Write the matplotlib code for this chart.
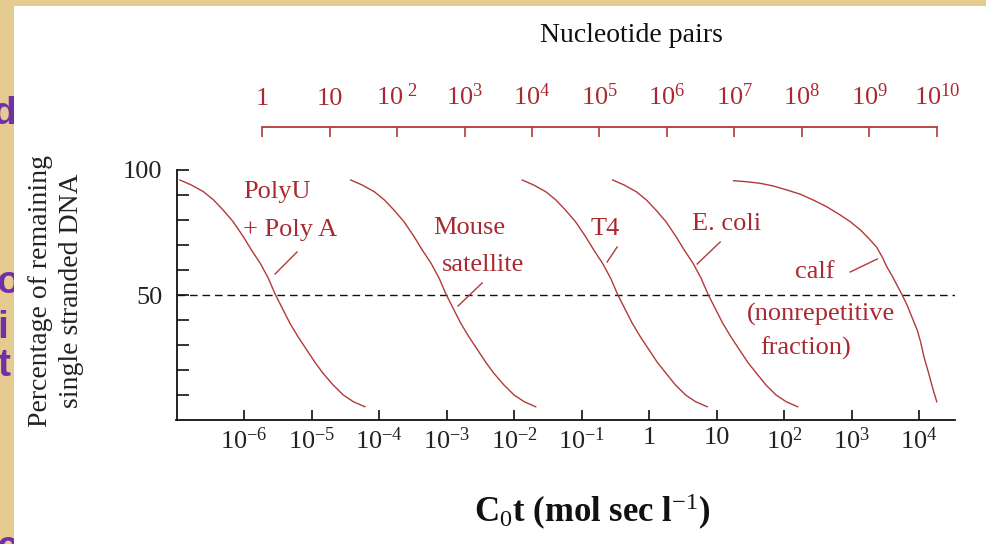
import matplotlib
matplotlib.use("Agg")
import matplotlib.pyplot as plt
import numpy as np
from matplotlib.patches import Rectangle
from matplotlib.ticker import NullLocator

plt.rcParams['font.family'] = ['Liberation Serif', 'DejaVu Serif']
plt.rcParams['mathtext.fontset'] = 'custom'
plt.rcParams['mathtext.rm'] = 'Liberation Serif'
plt.rcParams['mathtext.it'] = 'Liberation Serif:italic'
plt.rcParams['mathtext.bf'] = 'Liberation Serif:bold'

# ── Data (log10 of C0t, percent single stranded) ─────────────────────────────
curve_pct = [96.0, 94.0, 91.3, 88.0, 84.0, 79.3, 73.3, 68.0, 62.7, 56.7, 50.4,
             44.0, 38.7, 33.3, 28.0, 23.1, 18.7, 14.0, 10.0, 7.3, 5.3]

polyu_logcot = [-6.95, -6.78, -6.60, -6.45, -6.31, -6.16, -6.01, -5.89, -5.76, -5.64, -5.54,
                -5.42, -5.32, -5.20, -5.07, -4.95, -4.83, -4.68, -4.53, -4.38, -4.21]
mouse_logcot = [-4.42, -4.25, -4.07, -3.92, -3.78, -3.63, -3.48, -3.36, -3.23, -3.11, -3.01,
                -2.89, -2.79, -2.67, -2.54, -2.42, -2.30, -2.15, -2.00, -1.85, -1.68]
t4_logcot    = [-1.88, -1.71, -1.53, -1.38, -1.24, -1.09, -0.94, -0.82, -0.69, -0.57, -0.47,
                -0.35, -0.25, -0.13, 0.00, 0.12, 0.25, 0.39, 0.54, 0.69, 0.86]
ecoli_logcot = [-0.54, -0.37, -0.19, -0.04, 0.10, 0.25, 0.40, 0.52, 0.65, 0.77, 0.87,
                0.99, 1.09, 1.21, 1.34, 1.46, 1.59, 1.73, 1.88, 2.03, 2.20]

calf_logcot = [1.25, 1.45, 1.64, 1.84, 2.04, 2.24, 2.43, 2.63, 2.83, 2.98, 3.13, 3.25, 3.37,
               3.45, 3.52, 3.60, 3.67, 3.74, 3.82, 3.89, 3.97, 4.02, 4.07, 4.14, 4.20, 4.26]
calf_pct    = [95.7, 95.3, 94.7, 93.6, 92.0, 90.3, 88.0, 85.3, 82.0, 79.3, 76.0, 72.7, 69.1,
               65.3, 61.3, 57.6, 54.0, 50.4, 46.0, 41.3, 36.0, 31.3, 25.3, 18.7, 12.7, 7.3]

cot_ticks  = [1e-6, 1e-5, 1e-4, 1e-3, 1e-2, 1e-1, 1, 10, 1e2, 1e3, 1e4]
cot_labels = [r'$10^{-6}$', r'$10^{-5}$', r'$10^{-4}$', r'$10^{-3}$', r'$10^{-2}$',
              r'$10^{-1}$', '1', '10', r'$10^{2}$', r'$10^{3}$', r'$10^{4}$']

np_ticks  = [1, 1e1, 1e2, 1e3, 1e4, 1e5, 1e6, 1e7, 1e8, 1e9, 1e10]
np_labels = ['1', '10', r'$10^{\ 2}$', r'$10^{3}$', r'$10^{4}$', r'$10^{5}$',
             r'$10^{6}$', r'$10^{7}$', r'$10^{8}$', r'$10^{9}$', r'$10^{10}$']

pct_ticks  = [10, 20, 30, 40, 50, 60, 70, 80, 90, 100]
pct_labels = ['', '', '', '', '50', '', '', '', '', '100']

# label text, log10 x, y (left-aligned, centred vertically)
labels = [
    ('PolyU',          -6.015, 91.2),
    ('+ Poly A',       -6.015, 76.0),
    ('Mouse',          -3.20,  76.8),
    ('satellite',      -3.067, 62.0),
    ('T4',             -0.874, 76.4),
    ('E. coli',         0.637, 78.4),
    ('calf',            2.163, 59.2),
    ('(nonrepetitive',  1.452, 42.4),
    ('fraction)',       1.644, 28.8),
]
# leader lines: (log x0, y0, log x1, y1)
leaders = [
    (-5.215, 67.2, -5.54, 58.4),
    (-2.474, 54.8, -2.83, 45.6),
    (-0.474, 69.2, -0.622, 63.2),
    ( 1.052, 71.2,  0.711, 62.4),
    ( 2.978, 59.2,  3.378, 64.4),
]

RED_LINE = '#B23A3A'
RED_TEXT = '#A82A30'
W, H = 986, 544

fig = plt.figure(figsize=(W / 100, H / 100), dpi=100)
fig.patch.set_facecolor('#E5CB8F')

# bits of purple slide text peeking out at the left edge
for ch, px, py in [('d', -8, 114), ('o', -3, 283), ('i', -3, 328),
                   ('t', -3, 366), ('c', -3, 548)]:
    fig.text(px / W, 1 - py / H, ch, color='#7230A8', fontsize=28,
             fontweight='bold', family='Liberation Sans',
             ha='left', va='center', zorder=-3)

fig.add_artist(Rectangle((14 / W, 0), 1, 1 - 6 / H, transform=fig.transFigure,
                         facecolor='white', edgecolor='none', zorder=-2))

# ── Main axes ────────────────────────────────────────────────────────────────
ax = fig.add_axes([176.5 / W, 124 / H, 778.5 / W, 250 / H])
ax.set_facecolor('none')
ax.set_xscale('log')
ax.set_xlim(1e-7, 10 ** 4.53)
ax.set_ylim(0, 100)
for s in ('top', 'right'):
    ax.spines[s].set_visible(False)
for s in ('left', 'bottom'):
    ax.spines[s].set_linewidth(1.3)
    ax.spines[s].set_color('#111111')

ax.set_xticks(cot_ticks, cot_labels)
ax.xaxis.set_minor_locator(NullLocator())
ax.set_yticks(pct_ticks, pct_labels)
ax.tick_params(axis='x', direction='in', length=7.5, width=1.2, pad=5,
               labelsize=19, color='#111111', labelcolor='#222222')
ax.tick_params(axis='y', direction='in', length=8.5, width=1.2, pad=10,
               labelsize=19, color='#111111', labelcolor='#222222')

ax.axhline(50, color='#111111', lw=1.0, ls=(0, (5.5, 3.5)))

for lx, yy in [(polyu_logcot, curve_pct), (mouse_logcot, curve_pct),
               (t4_logcot, curve_pct), (ecoli_logcot, curve_pct),
               (calf_logcot, calf_pct)]:
    ax.plot(10 ** np.array(lx), yy, color=RED_LINE, lw=1.0, clip_on=False)

for txt, lx, yy in labels:
    ax.text(10 ** lx, yy, txt, color=RED_TEXT, fontsize=19,
            ha='left', va='center')
for x0, y0, x1, y1 in leaders:
    ax.plot([10 ** x0, 10 ** x1], [y0, y1], color=RED_LINE, lw=1.0)

# ── Top nucleotide-pairs axis ────────────────────────────────────────────────
ax_top = fig.add_axes([176.5 / W, 1 - 127 / H - 0.0005, 778.5 / W, 0.0005])
ax_top.set_facecolor('none')
ax_top.set_xscale('log')
ax_top.set_xlim(10 ** -1.267, 10 ** 10.267)
for s in ('bottom', 'left', 'right'):
    ax_top.spines[s].set_visible(False)
ax_top.spines['top'].set_color(RED_LINE)
ax_top.spines['top'].set_linewidth(1.3)
ax_top.spines['top'].set_bounds(1, 1e10)
ax_top.xaxis.tick_top()
ax_top.set_xticks(np_ticks, np_labels)
ax_top.xaxis.set_minor_locator(NullLocator())
ax_top.set_yticks([])
ax_top.tick_params(axis='x', direction='in', length=7, width=1.2, pad=12,
                   labelsize=19, color=RED_LINE, labelcolor=RED_TEXT)

# ── Titles ───────────────────────────────────────────────────────────────────
fig.text(631 / W, 1 - 35 / H, 'Nucleotide pairs', ha='center', va='center',
         fontsize=20, color='#111111')
fig.text(56 / W, 1 - 291 / H, 'Percentage of remaining\nsingle stranded DNA',
         rotation=90, ha='center', va='center', multialignment='center',
         fontsize=20, linespacing=1.3, color='#222222')
fig.text(592 / W, 1 - 512 / H, r'C$_{0}$t (mol sec l$^{-1}$)',
         ha='center', va='center', fontsize=25, fontweight='bold',
         color='#111111')

fig.savefig('out.png', dpi=100, facecolor=fig.get_facecolor())
